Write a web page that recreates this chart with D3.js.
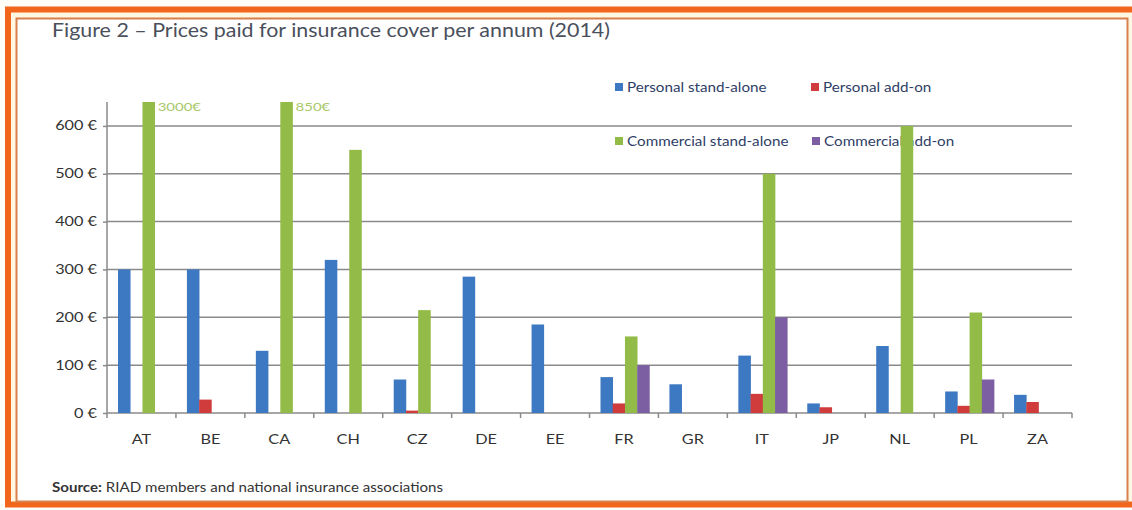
<!DOCTYPE html>
<html><head><meta charset="utf-8">
<script src="https://cdn.jsdelivr.net/npm/d3@7"></script>
<style>body{margin:0;background:#fff}svg{display:block}text{font-family:Lato,"Open Sans",sans-serif}</style>
</head><body><svg id="c" width="1132" height="510"></svg>
<script>
const categories = ["AT","BE","CA","CH","CZ","DE","EE","FR","GR","IT","JP","NL","PL","ZA"];
const seriesNames = ["Personal stand-alone","Personal add-on","Commercial stand-alone","Commercial add-on"];
const personalStandAlone   = [300,300,130,320,70,285,185,75,60,120,20,140,45,38];
const personalAddOn        = [0,28,0,0,5,0,0,20,0,40,12,0,15,23];
const commercialStandAlone = [3000,0,850,550,215,0,0,160,0,500,0,600,210,0];
const commercialAddOn      = [0,0,0,0,0,0,0,100,0,200,0,0,70,0];
const yTicks = [0,100,200,300,400,500,600];
const yMax = 650;
const colors = ["#3d78c2","#d03c3c","#93bb47","#7c5fa2"];

// stretch text horizontally by factor (reference text is wide)
function stretch(sel, f){
  sel.each(function(){
    const w = this.getComputedTextLength();
    d3.select(this).attr("textLength", w*f).attr("lengthAdjust","spacingAndGlyphs");
  });
}

const svg = d3.select("#c");
// frame
svg.append("rect").attr("x",0).attr("y",0).attr("width",1132).attr("height",510).attr("fill","#fffdf8");
svg.append("rect").attr("x",8).attr("y",9.5).attr("width",1140).attr("height",495).attr("fill","#fff7e2").attr("stroke","#f2661c").attr("stroke-width",6);
svg.append("rect").attr("x",16.5).attr("y",18.5).attr("width",1111).attr("height",483).attr("fill","#fff").attr("stroke","#d8804c").attr("stroke-width",2);

const series = [personalStandAlone, personalAddOn, commercialStandAlone, commercialAddOn];
const x0 = d3.scaleBand().domain(categories).range([107,1072]).padding(0);
const x1 = d3.scaleBand().domain(d3.range(4)).range([11, x0.bandwidth()-9]).padding(0);
const y = d3.scaleLinear().domain([0,yMax]).range([413,102]);

// grid
svg.append("g").selectAll("line").data(yTicks.filter(d=>d>0)).join("line")
 .attr("x1",107).attr("x2",1072).attr("y1",d=>y(d)).attr("y2",d=>y(d))
 .attr("stroke","#8a8a8a").attr("stroke-width",1.5);

// legend (behind bars)
const legPos = [[615,87],[811,87],[615,141],[812,141]];
const leg = svg.append("g");
seriesNames.forEach((n,i)=>{
  leg.append("rect").attr("x",legPos[i][0]).attr("y",legPos[i][1]-4).attr("width",8).attr("height",8).attr("fill",colors[i]);
  leg.append("text").attr("x",legPos[i][0]+12).attr("y",legPos[i][1]+4.5).attr("font-size",13).attr("fill","#2e3d66").text(n);
});
stretch(leg.selectAll("text"), 1.17);

// y axis
const yAxis = d3.axisLeft(y).tickValues(yTicks).tickSize(4).tickFormat(d=>d+" €");
const ya = svg.append("g").attr("transform","translate(107,0)").call(yAxis);
ya.select(".domain").attr("stroke","#8a8a8a").attr("stroke-width",1.5).attr("d","M0,102V413");
ya.selectAll(".tick line").attr("stroke","#8a8a8a").attr("stroke-width",1.5);
ya.selectAll(".tick text").attr("font-size",12.5).attr("fill","#333").attr("x",-10).attr("font-family","Lato,sans-serif");
stretch(ya.selectAll(".tick text"), 1.3);

// x axis
const xa = svg.append("g").attr("transform","translate(0,413)");
xa.append("line").attr("x1",107).attr("x2",1072).attr("stroke","#8a8a8a").attr("stroke-width",1.5);
xa.selectAll("line.t").data(d3.range(categories.length+1)).join("line")
 .attr("x1",i=>107+i*x0.bandwidth()).attr("x2",i=>107+i*x0.bandwidth()).attr("y1",0).attr("y2",5)
 .attr("stroke","#8a8a8a").attr("stroke-width",1.5);
xa.selectAll("text").data(categories).join("text")
 .attr("x",d=>x0(d)+x0.bandwidth()/2).attr("y",31).attr("text-anchor","middle")
 .attr("font-size",13).attr("fill","#333").text(d=>d);
stretch(xa.selectAll("text"), 1.25);

// bars
const bars = svg.append("g");
categories.forEach((c,ci)=>{
  series.forEach((s,si)=>{
    const v = s[ci];
    if(!v) return;
    const vv = Math.min(v,yMax);
    bars.append("rect").attr("x",x0(c)+x1(si)).attr("width",x1.bandwidth()+0.3)
      .attr("y",y(vv)).attr("height",y(0)-y(vv)).attr("fill",colors[si]);
    if(v>yMax){
      const t = bars.append("text").attr("x",x0(c)+x1(si)+x1.bandwidth()+3).attr("y",y(yMax)+9)
        .attr("font-size",11.5).attr("fill","#a8c86a").text(v+"€");
      stretch(t, 1.3);
    }
  });
});

// title
const title = svg.append("text").attr("x",52).attr("y",37).attr("font-size",20).attr("fill","#4a4f5c").text("Figure 2 – Prices paid for insurance cover per annum (2014)");
title.attr("textLength",558).attr("lengthAdjust","spacingAndGlyphs");
// source
const src = svg.append("text").attr("x",52).attr("y",492).attr("font-size",13).attr("fill","#333");
src.append("tspan").attr("font-weight","bold").text("Source:");
src.append("tspan").text(" RIAD members and national insurance associations");
src.attr("textLength",391).attr("lengthAdjust","spacingAndGlyphs");
</script></body></html>
